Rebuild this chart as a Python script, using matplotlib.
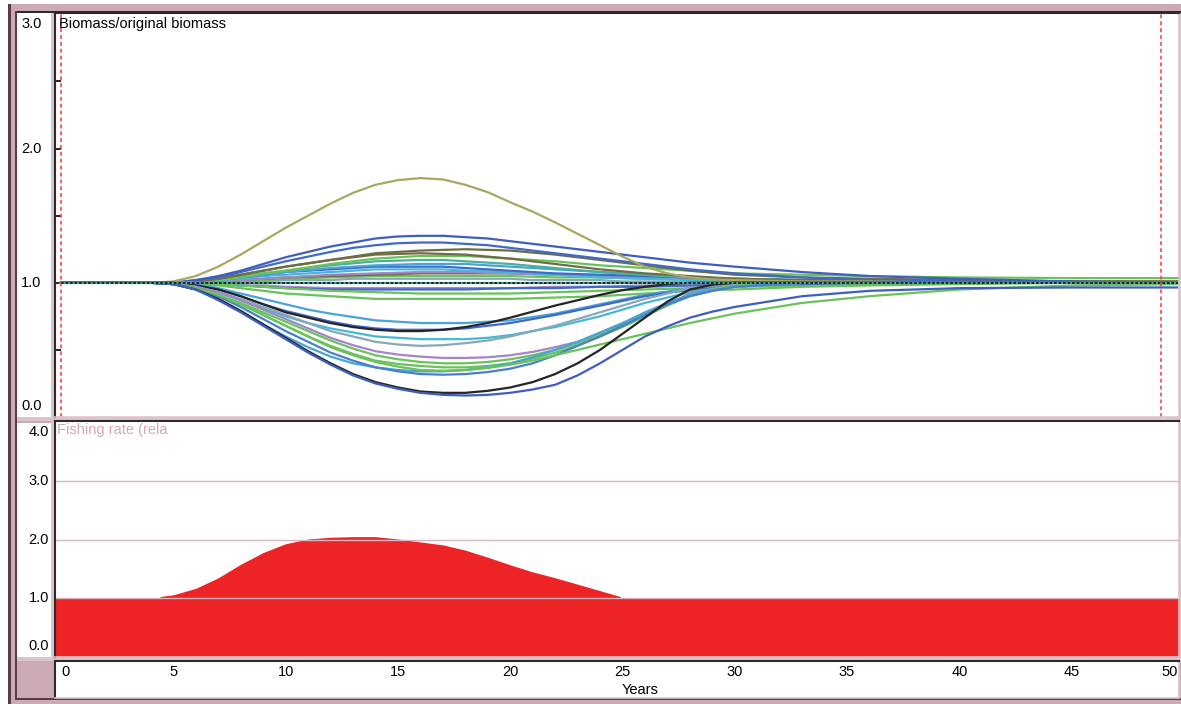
import matplotlib.pyplot as plt
import matplotlib.transforms as mtransforms
from matplotlib.patches import Rectangle

plt.rcParams['font.family'] = ['Liberation Sans', 'DejaVu Sans']

# Simulation years at which the biomass ratios are recorded
YEARS = [0, 4, 5, 6, 7, 8, 9, 10,
         11, 12, 13, 14, 15, 16, 17, 18, 19, 20, 21, 22, 23, 24, 25, 26, 27, 28, 29, 30,
         33, 36, 40, 45, 50]

# Biomass / original biomass per group: (colour, yrs 0-10, yrs 11-30, yrs 33-50)
GROUPS = [
    ('#88a8b8', [1, 1, 1, 1.0, 1.0, 1.01, 1.01, 1.02],
     [1.02, 1.02, 1.03, 1.03, 1.03, 1.03, 1.03, 1.03, 1.03, 1.03, 1.02, 1.02, 1.02, 1.02, 1.01, 1.01, 1.01, 1.01, 1.01, 1.01],
     [1.0, 1.0, 1.0, 1.0, 1.0]),
    ('#6ac25a', [1, 1, 1, 1.0, 1.01, 1.01, 1.02, 1.03],
     [1.035, 1.04, 1.045, 1.05, 1.05, 1.05, 1.05, 1.05, 1.05, 1.05, 1.045, 1.04, 1.04, 1.04, 1.035, 1.03, 1.03, 1.03, 1.025, 1.02],
     [1.02, 1.01, 1.01, 1.0, 1.0]),
    ('#6e6e45', [1, 1, 1, 1.0, 1.01, 1.02, 1.03, 1.04],
     [1.045, 1.05, 1.055, 1.06, 1.065, 1.07, 1.07, 1.07, 1.07, 1.07, 1.065, 1.06, 1.055, 1.05, 1.045, 1.04, 1.035, 1.03, 1.025, 1.02],
     [1.01, 1.01, 1.0, 1.0, 1.0]),
    ('#a485c8', [1, 1, 1, 1.0, 1.01, 1.02, 1.03, 1.04],
     [1.05, 1.06, 1.065, 1.07, 1.075, 1.08, 1.08, 1.08, 1.075, 1.07, 1.065, 1.06, 1.055, 1.05, 1.045, 1.04, 1.035, 1.03, 1.025, 1.02],
     [1.01, 1.0, 1.0, 1.0, 1.0]),
    ('#45b8d8', [1, 1, 1, 1.01, 1.02, 1.03, 1.05, 1.06],
     [1.07, 1.08, 1.09, 1.10, 1.10, 1.10, 1.10, 1.09, 1.085, 1.08, 1.07, 1.06, 1.05, 1.04, 1.035, 1.03, 1.025, 1.02, 1.015, 1.01],
     [1.0, 1.0, 1.0, 1.0, 1.0]),
    ('#4169c8', [1, 1, 1, 1.01, 1.02, 1.04, 1.06, 1.08],
     [1.09, 1.10, 1.11, 1.12, 1.12, 1.12, 1.12, 1.11, 1.10, 1.09, 1.08, 1.07, 1.065, 1.06, 1.055, 1.05, 1.045, 1.04, 1.035, 1.03],
     [1.02, 1.01, 1.01, 1.0, 1.0]),
    ('#4aa3d8', [1, 1, 1, 1.01, 1.02, 1.04, 1.06, 1.08],
     [1.095, 1.11, 1.12, 1.13, 1.135, 1.14, 1.14, 1.14, 1.13, 1.12, 1.11, 1.10, 1.09, 1.08, 1.07, 1.06, 1.05, 1.04, 1.035, 1.03],
     [1.02, 1.01, 1.0, 1.0, 1.0]),
    ('#48b0a0', [1, 1, 1, 1.01, 1.03, 1.05, 1.07, 1.09],
     [1.11, 1.13, 1.145, 1.16, 1.165, 1.17, 1.17, 1.16, 1.15, 1.14, 1.125, 1.11, 1.095, 1.08, 1.07, 1.06, 1.05, 1.04, 1.035, 1.03],
     [1.02, 1.01, 1.0, 1.0, 1.0]),
    ('#6ac25a', [1, 1, 1, 1.01, 1.02, 1.04, 1.07, 1.09],
     [1.115, 1.14, 1.16, 1.18, 1.19, 1.20, 1.20, 1.20, 1.19, 1.18, 1.17, 1.16, 1.145, 1.13, 1.12, 1.11, 1.10, 1.09, 1.08, 1.07],
     [1.06, 1.05, 1.04, 1.035, 1.035]),
    ('#6e6e45', [1, 1, 1, 1.01, 1.03, 1.06, 1.09, 1.12],
     [1.145, 1.17, 1.19, 1.21, 1.215, 1.22, 1.215, 1.21, 1.195, 1.18, 1.16, 1.14, 1.12, 1.10, 1.085, 1.07, 1.06, 1.05, 1.04, 1.03],
     [1.02, 1.02, 1.01, 1.01, 1.01]),
    ('#6e6e45', [1, 1, 1, 1.01, 1.03, 1.06, 1.09, 1.12],
     [1.145, 1.17, 1.195, 1.22, 1.23, 1.24, 1.245, 1.25, 1.245, 1.24, 1.225, 1.21, 1.19, 1.17, 1.15, 1.13, 1.11, 1.09, 1.075, 1.06],
     [1.04, 1.03, 1.02, 1.01, 1.01]),
    ('#4169c8', [1, 1, 1, 1.02, 1.04, 1.08, 1.12, 1.16],
     [1.195, 1.23, 1.26, 1.28, 1.295, 1.30, 1.30, 1.29, 1.28, 1.26, 1.24, 1.22, 1.20, 1.18, 1.16, 1.14, 1.12, 1.10, 1.085, 1.07],
     [1.04, 1.02, 1.01, 1.0, 1.0]),
    ('#3f5fc0', [1, 1, 1, 1.02, 1.05, 1.09, 1.14, 1.19],
     [1.23, 1.27, 1.30, 1.33, 1.345, 1.35, 1.35, 1.34, 1.33, 1.31, 1.29, 1.27, 1.25, 1.23, 1.21, 1.19, 1.17, 1.15, 1.135, 1.12],
     [1.08, 1.05, 1.03, 1.01, 1.0]),
    ('#a8a860', [1, 1, 1.01, 1.05, 1.12, 1.21, 1.31, 1.41],
     [1.50, 1.59, 1.67, 1.73, 1.765, 1.78, 1.77, 1.73, 1.675, 1.60, 1.53, 1.45, 1.365, 1.28, 1.195, 1.12, 1.07, 1.04, 1.025, 1.02],
     [1.01, 1.01, 1.0, 1.0, 1.0]),
    ('#a485c8', [1, 1, 1, 1.0, 0.99, 0.98, 0.98, 0.97],
     [0.965, 0.96, 0.96, 0.96, 0.96, 0.96, 0.96, 0.96, 0.96, 0.96, 0.965, 0.97, 0.97, 0.97, 0.975, 0.98, 0.98, 0.98, 0.985, 0.99],
     [0.99, 1.0, 1.0, 1.0, 1.0]),
    ('#4169c8', [1, 1, 1, 0.99, 0.99, 0.98, 0.97, 0.96],
     [0.955, 0.95, 0.95, 0.95, 0.95, 0.95, 0.95, 0.95, 0.955, 0.96, 0.96, 0.96, 0.965, 0.97, 0.97, 0.97, 0.975, 0.98, 0.98, 0.98],
     [0.99, 0.99, 1.0, 1.0, 1.0]),
    ('#6ac25a', [1, 1, 1, 1.0, 0.99, 0.98, 0.97, 0.96],
     [0.95, 0.94, 0.935, 0.93, 0.925, 0.92, 0.92, 0.92, 0.92, 0.92, 0.925, 0.93, 0.935, 0.94, 0.945, 0.95, 0.955, 0.96, 0.965, 0.97],
     [0.98, 0.99, 1.0, 1.0, 1.0]),
    ('#6ac25a', [1, 1, 1, 0.99, 0.98, 0.96, 0.94, 0.92],
     [0.91, 0.90, 0.89, 0.88, 0.88, 0.88, 0.88, 0.88, 0.88, 0.88, 0.885, 0.89, 0.895, 0.90, 0.91, 0.92, 0.93, 0.94, 0.945, 0.95],
     [0.97, 0.98, 0.99, 1.0, 1.0]),
    ('#4aa3d8', [1, 1, 1.0, 0.99, 0.96, 0.92, 0.88, 0.84],
     [0.80, 0.77, 0.745, 0.72, 0.71, 0.70, 0.70, 0.70, 0.71, 0.72, 0.745, 0.77, 0.805, 0.84, 0.875, 0.91, 0.935, 0.96, 0.975, 0.99],
     [1.0, 1.0, 1.0, 1.0, 1.0]),
    ('#4169c8', [1, 1, 1.0, 0.98, 0.95, 0.90, 0.84, 0.79],
     [0.75, 0.71, 0.68, 0.66, 0.65, 0.65, 0.65, 0.66, 0.68, 0.70, 0.73, 0.76, 0.795, 0.83, 0.865, 0.90, 0.925, 0.95, 0.965, 0.98],
     [0.99, 1.0, 1.0, 1.0, 1.0]),
    ('#252525', [1, 1, 1.0, 0.98, 0.95, 0.90, 0.84, 0.78],
     [0.74, 0.70, 0.67, 0.65, 0.64, 0.64, 0.65, 0.67, 0.70, 0.74, 0.785, 0.83, 0.87, 0.91, 0.945, 0.97, 0.99, 1.0, 1.0, 1.0],
     [1.0, 1.0, 1.0, 1.0, 1.0]),
    ('#45b8d8', [1, 1, 0.99, 0.97, 0.93, 0.87, 0.81, 0.75],
     [0.70, 0.66, 0.63, 0.60, 0.59, 0.58, 0.58, 0.58, 0.59, 0.61, 0.64, 0.67, 0.71, 0.75, 0.80, 0.85, 0.89, 0.93, 0.955, 0.98],
     [1.0, 1.0, 1.0, 1.0, 1.0]),
    ('#88a8b8', [1, 1, 0.99, 0.97, 0.93, 0.88, 0.82, 0.76],
     [0.70, 0.64, 0.60, 0.56, 0.54, 0.53, 0.535, 0.55, 0.57, 0.60, 0.64, 0.68, 0.73, 0.78, 0.83, 0.88, 0.92, 0.96, 0.975, 0.99],
     [1.0, 1.0, 1.0, 1.0, 1.0]),
    ('#a485c8', [1, 1, 0.99, 0.97, 0.93, 0.87, 0.80, 0.73],
     [0.66, 0.59, 0.535, 0.49, 0.465, 0.45, 0.44, 0.44, 0.445, 0.46, 0.485, 0.52, 0.56, 0.61, 0.68, 0.76, 0.84, 0.92, 0.95, 0.98],
     [1.0, 1.0, 1.0, 1.0, 1.0]),
    ('#6ac25a', [1, 1, 0.99, 0.96, 0.91, 0.85, 0.78, 0.71],
     [0.64, 0.57, 0.51, 0.46, 0.43, 0.41, 0.40, 0.40, 0.41, 0.43, 0.46, 0.50, 0.55, 0.62, 0.69, 0.77, 0.84, 0.91, 0.95, 0.98],
     [1.0, 1.0, 1.0, 1.0, 1.0]),
    ('#6ac25a', [1, 1, 0.99, 0.96, 0.91, 0.84, 0.76, 0.68],
     [0.60, 0.53, 0.47, 0.42, 0.395, 0.38, 0.37, 0.37, 0.38, 0.40, 0.435, 0.48, 0.535, 0.60, 0.67, 0.75, 0.83, 0.90, 0.94, 0.97],
     [1.0, 1.0, 1.0, 1.0, 1.0]),
    ('#4aa3d8', [1, 1, 0.99, 0.95, 0.88, 0.79, 0.69, 0.60],
     [0.52, 0.45, 0.40, 0.37, 0.35, 0.34, 0.34, 0.35, 0.37, 0.40, 0.445, 0.50, 0.56, 0.63, 0.70, 0.78, 0.85, 0.91, 0.945, 0.97],
     [1.0, 1.0, 1.0, 1.0, 1.0]),
    ('#4a7fd0', [1, 1, 0.99, 0.96, 0.90, 0.82, 0.73, 0.64],
     [0.56, 0.48, 0.42, 0.37, 0.34, 0.32, 0.315, 0.32, 0.335, 0.36, 0.40, 0.46, 0.53, 0.60, 0.68, 0.76, 0.84, 0.90, 0.94, 0.97],
     [1.0, 1.0, 1.0, 1.0, 1.0]),
    ('#6ac25a', [1, 1, 0.99, 0.96, 0.91, 0.84, 0.76, 0.68],
     [0.60, 0.52, 0.46, 0.41, 0.375, 0.35, 0.345, 0.35, 0.365, 0.39, 0.42, 0.46, 0.50, 0.54, 0.58, 0.62, 0.66, 0.70, 0.735, 0.77],
     [0.85, 0.90, 0.95, 0.98, 0.99]),
    ('#252525', [1, 1, 0.99, 0.95, 0.88, 0.79, 0.69, 0.59],
     [0.49, 0.40, 0.32, 0.26, 0.22, 0.19, 0.18, 0.18, 0.195, 0.22, 0.26, 0.32, 0.40, 0.50, 0.62, 0.74, 0.86, 0.95, 0.985, 1.0],
     [1.0, 1.0, 1.0, 1.0, 1.0]),
    ('#3f5fc0', [1, 1, 0.99, 0.95, 0.87, 0.78, 0.68, 0.58],
     [0.48, 0.39, 0.31, 0.25, 0.21, 0.18, 0.165, 0.16, 0.165, 0.18, 0.205, 0.24, 0.31, 0.40, 0.50, 0.60, 0.675, 0.74, 0.785, 0.82],
     [0.90, 0.94, 0.96, 0.965, 0.965]),
]
BASELINE = [1.0] * len(YEARS)

# Relative fishing rate (baseline effort held from before the run starts)
F_YEARS = [-0.5, 4.4, 4.4, 5, 6, 7, 8, 9, 10, 11, 12, 13, 14, 15, 16, 17, 18, 19, 20, 21, 22, 23, 24, 24.9, 24.9, 50]
F_RATE = [1, 1, 1.03, 1.06, 1.17, 1.35, 1.58, 1.78, 1.93, 2.01, 2.04, 2.05, 2.05, 2.01, 1.96, 1.91, 1.82,
          1.70, 1.57, 1.45, 1.35, 1.24, 1.13, 1.03, 1.0, 1.0]

SIM_START, SIM_END = 0, 49
X_TICKS = [0, 5, 10, 15, 20, 25, 30, 35, 40, 45, 50]
TOP_TICKS = [0.0, 1.0, 2.0, 3.0]
BOT_TICKS = [0.0, 1.0, 2.0, 3.0, 4.0]

W, H = 1181, 704
PINK = '#cbaab4'
LIGHT_PINK = '#dcc4cc'
DARK = '#2e2a2c'
MAROON = '#5c3a46'
FS = 10.5

fig = plt.figure(figsize=(W / 100, H / 100), dpi=100)
fig.patch.set_facecolor('white')


def px_axes(x0, y0, x1, y1):
    return fig.add_axes([x0 / W, 1 - y1 / H, (x1 - x0) / W, (y1 - y0) / H], zorder=2)


def px_rect(x0, y0, x1, y1, color):
    fig.patches.append(Rectangle((x0 / W, 1 - y1 / H), (x1 - x0) / W, (y1 - y0) / H,
                                 transform=fig.transFigure, facecolor=color,
                                 edgecolor='none', zorder=-5))


# window frame
px_rect(8, 4, 1181, 704, PINK)
px_rect(8, 4, 11, 704, MAROON)
px_rect(15, 11, 17, 700, MAROON)
px_rect(17, 11, 1181, 13, DARK)
px_rect(17, 13, 51, 417, 'white')
px_rect(17, 423, 51, 657, 'white')
px_rect(51, 13, 1181, 417, LIGHT_PINK)
px_rect(51, 421, 1181, 657, LIGHT_PINK)
px_rect(17, 417, 1181, 421, LIGHT_PINK)
px_rect(17, 657, 1181, 661, LIGHT_PINK)
px_rect(17, 661, 53, 698, PINK)
px_rect(17, 698, 1181, 700, MAROON)

xlim = (-0.27, 49.78)

# Biomass panel
ax1 = px_axes(55, 13, 1179, 417)
for color, early, mid, late in GROUPS:
    ax1.plot(YEARS, early + mid + late, color=color, lw=1.6, solid_joinstyle='round')
ax1.plot(YEARS, BASELINE, color='#48b0a0', lw=1.6)
ax1.plot(YEARS, BASELINE, color='#1a1a1a', lw=1.3, dashes=(1.5, 1.0))
for yr in (SIM_START, SIM_END):
    ax1.axvline(yr, color='#ff3535', lw=1.1, dashes=(2.5, 2.0))
ax1.set_xlim(*xlim)
ax1.set_ylim(0, 3.01)
ax1.set_xticks([])
ax1.set_yticks([0.5, 1.0, 1.5, 2.0, 2.5])
ax1.tick_params(axis='y', direction='in', length=4, width=1.2, color='black', labelleft=False)
ax1.text(0.004, 0.99, 'Biomass/original biomass', transform=ax1.transAxes,
         ha='left', va='top', fontsize=FS, color='black')

lbl = mtransforms.blended_transform_factory(fig.transFigure, ax1.transData)
for v in TOP_TICKS:
    va = 'top' if v == TOP_TICKS[-1] else ('bottom' if v == TOP_TICKS[0] else 'center')
    yv = v - 0.02 if va == 'top' else (v + 0.03 if va == 'bottom' else v)
    fig.text(21 / W, yv, f'{v:.1f}', transform=lbl, ha='left', va=va, fontsize=FS)

# Fishing rate panel
ax2 = px_axes(55, 421, 1179, 657)
ax2.fill_between(F_YEARS, 0, F_RATE, color='#ee2326', lw=0, zorder=1)
for v in BOT_TICKS[1:-1]:
    ax2.axhline(v, color='#d8b4c0', lw=1.0, zorder=2)
ax2.set_xlim(*xlim)
ax2.set_ylim(0, 4.02)
ax2.set_xticks([])
ax2.set_yticks([])
ax2.text(0.002, 0.99, 'Fishing rate (rela', transform=ax2.transAxes,
         ha='left', va='top', fontsize=FS, color='#d4a8b8')

lbl2 = mtransforms.blended_transform_factory(fig.transFigure, ax2.transData)
for v in BOT_TICKS:
    va = 'top' if v == BOT_TICKS[-1] else ('bottom' if v == BOT_TICKS[0] else 'center')
    yv = v - 0.05 if va == 'top' else (v + 0.06 if va == 'bottom' else v)
    fig.text(49 / W, yv, f'{v:.1f}', transform=lbl2, ha='right', va=va, fontsize=FS)

# Years axis strip
ax3 = px_axes(55, 661, 1179, 698)
ax3.set_xlim(*xlim)
ax3.set_ylim(0, 1)
ax3.set_yticks([])
ax3.set_xticks([])
for t in X_TICKS:
    ha = 'right' if t == X_TICKS[-1] else ('left' if t == X_TICKS[0] else 'center')
    tx = min(t, 49.72)
    ax3.text(tx, 0.9, str(t), ha=ha, va='top', fontsize=FS)
ax3.text(25.8, 0.02, 'Years', ha='center', va='bottom', fontsize=FS)

for ax in (ax1, ax2, ax3):
    for side in ('top', 'left'):
        ax.spines[side].set_color(DARK)
        ax.spines[side].set_linewidth(1.5)
    for side in ('right', 'bottom'):
        ax.spines[side].set_color(LIGHT_PINK)
        ax.spines[side].set_linewidth(1.2)

fig.savefig('out.png', dpi=100)
